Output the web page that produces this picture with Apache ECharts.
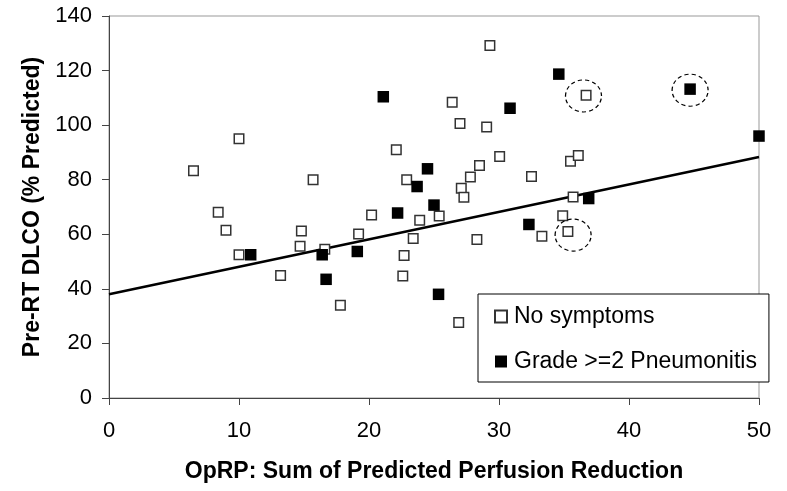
<!DOCTYPE html>
<html>
<head>
<meta charset="utf-8">
<script src="https://cdn.jsdelivr.net/npm/echarts@6/dist/echarts.min.js"></script>
<style>
  html, body { margin: 0; padding: 0; background: #fff; }
  #main { width: 787px; height: 491px; }
</style>
</head>
<body>
<div id="main"></div>
<script>
// points: [OpRP, DLCO]
var noSymptoms = [
  [6.5, 83.3], [8.4, 68.1], [9.0, 61.5], [10.0, 52.5], [10.0, 95.0], [13.2, 44.9],
  [14.8, 61.2], [14.7, 55.6], [15.7, 80.0], [16.6, 54.5], [17.8, 34.0], [19.2, 60.1],
  [20.2, 67.1], [22.1, 91.0], [22.7, 52.2], [22.6, 44.7], [22.9, 80.0], [23.4, 58.5],
  [23.9, 65.1], [25.4, 66.7], [26.4, 108.4], [27.0, 100.6], [26.9, 27.7], [27.1, 76.9],
  [27.3, 73.6], [27.8, 81.0], [28.3, 58.1], [28.5, 85.2], [29.05, 99.3], [29.3, 129.2],
  [30.05, 88.5], [32.5, 81.2], [33.3, 59.3], [34.9, 66.8], [35.3, 61.0], [35.5, 86.8],
  [35.7, 73.7], [36.1, 88.9], [36.7, 111.0]
]
var pneumonitis = [
  [10.9, 52.5], [16.4, 52.5], [16.7, 43.5], [19.1, 53.7], [21.1, 110.4], [22.2, 67.8],
  [23.7, 77.5], [24.5, 84.0], [25.0, 70.7], [25.35, 38.0], [30.85, 106.2], [32.3, 63.6],
  [34.6, 118.7], [36.9, 73.1], [44.7, 113.2], [50.0, 96.0]
]
// dashed rings around the marked cases
var circled = [[36.5, 110.7], [44.7, 112.8], [35.7, 59.7]]
// fitted line end points
var trendX = [0, 50]
var trendY = [38.0, 88.3]

var xTicks = [0, 10, 20, 30, 40, 50]
var yTicks = [0, 20, 40, 60, 80, 100, 120, 140]

var font = "'Liberation Sans', Arial, sans-serif"

function draw() {
  var myChart = echarts.init(document.getElementById('main'))
  var trend = trendX.map((x, i) => [x, trendY[i]])
  var option = {
    animation: false,
    grid: {
      left: 109, right: 28, top: 16, bottom: 93,
      show: true, borderColor: '#999', borderWidth: 1
    },
    xAxis: {
      type: 'value',
      min: xTicks[0], max: xTicks[xTicks.length - 1], interval: 10,
      name: 'OpRP: Sum of Predicted Perfusion Reduction',
      nameLocation: 'middle', nameGap: 62,
      nameTextStyle: { fontFamily: font, fontSize: 23, fontWeight: 'bold', color: '#000' },
      axisLine: { lineStyle: { color: '#444', width: 1 } },
      axisTick: { length: 7, lineStyle: { color: '#444' } },
      axisLabel: { margin: 22, fontFamily: font, fontSize: 22, color: '#000' },
      splitLine: { show: false }
    },
    yAxis: {
      type: 'value',
      min: yTicks[0], max: yTicks[yTicks.length - 1], interval: 20,
      name: 'Pre-RT DLCO (% Predicted)',
      nameLocation: 'middle', nameGap: 65,
      nameTextStyle: { fontFamily: font, fontSize: 23, fontWeight: 'bold', color: '#000' },
      axisLine: { show: true, lineStyle: { color: '#444', width: 1 } },
      axisTick: { show: true, length: 7, lineStyle: { color: '#444' } },
      axisLabel: { margin: 17, fontFamily: font, fontSize: 22, color: '#000' },
      splitLine: { show: false }
    },
    legend: {
      data: ['No symptoms', 'Grade >=2 Pneumonitis'],
      orient: 'vertical',
      left: 478, top: 294,
      padding: [11, 12, 9, 16],
      itemGap: 22,
      itemWidth: 12, itemHeight: 12,
      backgroundColor: '#fff',
      borderColor: '#000', borderWidth: 1,
      textStyle: { fontFamily: font, fontSize: 23, color: '#000', padding: [0, 0, 0, 2] }
    },
    series: [
      {
        name: 'trend',
        type: 'line',
        data: trend,
        symbol: 'none',
        lineStyle: { color: '#000', width: 2.6 },
        z: 1
      },
      {
        name: 'No symptoms',
        type: 'scatter',
        data: noSymptoms,
        symbol: 'rect',
        symbolSize: 9.5,
        itemStyle: { color: '#fff', borderColor: '#333', borderWidth: 1.5, opacity: 1 },
        clip: false,
        z: 2
      },
      {
        name: 'Grade >=2 Pneumonitis',
        type: 'scatter',
        data: pneumonitis,
        symbol: 'rect',
        symbolSize: 11.5,
        itemStyle: { color: '#000', opacity: 1 },
        clip: false,
        z: 3
      },
      {
        name: 'circled',
        type: 'scatter',
        data: circled,
        symbol: 'path://M0,50 A50,50 0 1,1 100,50 A50,50 0 1,1 0,50 Z',
        symbolSize: [36, 32],
        itemStyle: { color: 'rgba(0,0,0,0)', borderColor: '#000', borderWidth: 1.2, borderType: [4, 3], opacity: 1 },
        silent: true,
        z: 4
      }
    ]
  }
  myChart.setOption(option)
}

window.onload = draw
</script>
</body>
</html>
